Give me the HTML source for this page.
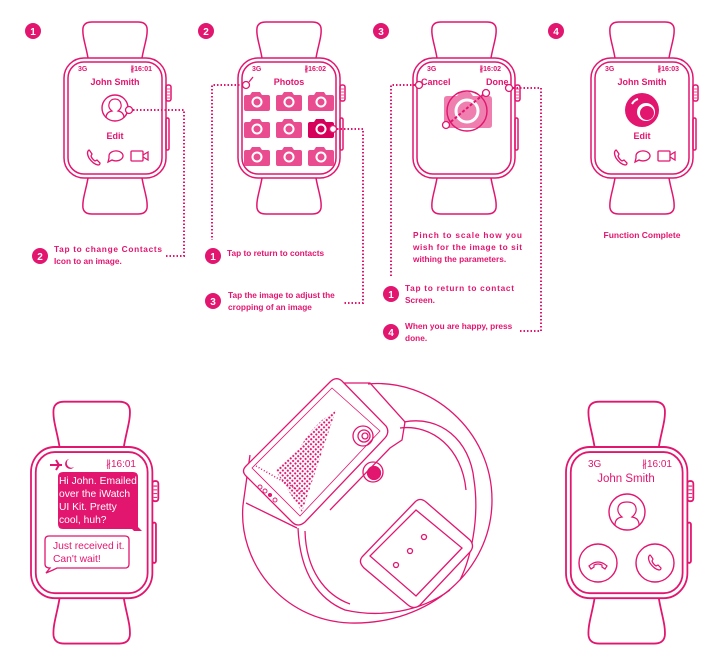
<!DOCTYPE html>
<html><head><meta charset="utf-8"><style>
html,body{margin:0;padding:0;background:#fff}
svg{display:block}
text{font-family:"Liberation Sans Narrow","Liberation Sans",sans-serif;fill:#e2156f}
.b{font-weight:bold}
</style></head><body>
<svg width="726" height="658" viewBox="0 0 726 658" xmlns="http://www.w3.org/2000/svg">
<defs>
<g id="watch" fill="none" stroke="#e2156f" stroke-width="1.5">
<path d="M24,0 C22,-12 18,-22 19,-30 Q20,-36 28,-36 L74,-36 Q82,-36 83,-30 C84,-22 80,-12 78,0"/>
<path d="M24,120 C22,132 18,142 19,150 Q20,156 28,156 L74,156 Q82,156 83,150 C84,142 80,132 78,120"/>
<rect x="0" y="0" width="102" height="120" rx="20" fill="#fff"/>
<rect x="4" y="4" width="94" height="112" rx="16"/>
<rect x="102" y="27" width="5" height="16" rx="2"/>
<path d="M103,31h3M103,34h3M103,37h3M103,40h3" stroke-width="0.8"/>
<rect x="102" y="60" width="3" height="32" rx="1.5"/>
</g>
<g id="cam">
<path d="M-11,-6 h4 l2,-3 h8 l2,3 h6 q2,0 2,2 v12 q0,2 -2,2 h-22 q-2,0 -2,-2 v-12 q0,-2 2,-2z"/>
<circle cx="0" cy="1" r="5.5" fill="#fff"/>
<circle cx="0" cy="1" r="3.5" fill="inherit"/>
</g>
<g id="icons" fill="none" stroke="#e2156f" stroke-width="1.3">
<path d="M-26,-6 q-3,2 0,8 q4,6 9,7 q2,0 2,-2 l-3,-3 l-2,1 q-3,-2 -4,-5 l1,-2 l-2,-3z"/>
<path d="M-6,0 a7,5 0 1 1 3,4 l-4,2 l1,-4z"/>
<rect x="16" y="-5" width="12" height="10" rx="1"/><path d="M28,-1 l5,-3 v8 l-5,-3"/>
</g>
<pattern id="dots" width="3.5" height="3.5" patternUnits="userSpaceOnUse" patternTransform="rotate(-43)">
<circle cx="1.5" cy="1.5" r="1.1" fill="#e2156f"/>
</pattern>
</defs>

<g class="b" font-size="10" text-anchor="middle">
<circle cx="33" cy="31" r="8" fill="#e2156f"/><text x="33" y="35" style="fill:#fff">1</text>
<circle cx="206" cy="31" r="8" fill="#e2156f"/><text x="206" y="35" style="fill:#fff">2</text>
<circle cx="381" cy="31" r="8" fill="#e2156f"/><text x="381" y="35" style="fill:#fff">3</text>
<circle cx="556" cy="31" r="8" fill="#e2156f"/><text x="556" y="35" style="fill:#fff">4</text>
</g>

<use href="#watch" x="64" y="58"/>
<use href="#watch" x="238" y="58"/>
<use href="#watch" x="413" y="58"/>
<use href="#watch" x="591" y="58"/>

<g class="b" font-size="7"><text x="78" y="71">3G</text><text x="152" y="71" text-anchor="end">∦16:01</text></g>
<text x="115" y="85" class="b" font-size="9" text-anchor="middle">John Smith</text>
<circle cx="115" cy="108" r="13" fill="none" stroke="#e2156f" stroke-width="1.4"/>
<path d="M106,118 q0,-6 6,-7 q-4,-3 -3,-7 q1,-5 6,-5 q5,0 6,5 q1,4 -3,7 q6,1 6,7" fill="none" stroke="#e2156f" stroke-width="1.2"/>
<circle cx="129" cy="110" r="3.5" fill="#fff" stroke="#e2156f" stroke-width="1.3"/>
<text x="115" y="139" class="b" font-size="9" text-anchor="middle">Edit</text>
<use href="#icons" x="115" y="156"/>

<g class="b" font-size="7"><text x="605" y="71">3G</text><text x="679" y="71" text-anchor="end">∦16:03</text></g>
<text x="642" y="85" class="b" font-size="9" text-anchor="middle">John Smith</text>
<circle cx="642" cy="110" r="17" fill="#e2156f"/>
<circle cx="646" cy="112" r="9" fill="#fff"/><circle cx="647" cy="113" r="7" fill="#e2156f"/>
<path d="M632,104 a10,10 0 0 1 6,-5" stroke="#fff" stroke-width="2" fill="none"/>
<text x="642" y="139" class="b" font-size="9" text-anchor="middle">Edit</text>
<use href="#icons" x="642" y="156"/>
<text x="642" y="238" class="b" font-size="8.5" text-anchor="middle">Function Complete</text>

<g class="b" font-size="7"><text x="252" y="71">3G</text><text x="326" y="71" text-anchor="end">∦16:02</text></g>
<text x="289" y="85" class="b" font-size="9" text-anchor="middle">Photos</text>
<circle cx="246" cy="85" r="3.5" fill="#fff" stroke="#e2156f" stroke-width="1.3"/>
<path d="M249,82 l4,-5" stroke="#e2156f" stroke-width="1.3"/>
<g fill="#ea4d8f">
<use href="#cam" x="257" y="101"/><use href="#cam" x="289" y="101"/><use href="#cam" x="321" y="101"/>
<use href="#cam" x="257" y="128"/><use href="#cam" x="289" y="128"/>
<use href="#cam" x="257" y="156"/><use href="#cam" x="289" y="156"/><use href="#cam" x="321" y="156"/>
</g>
<g fill="#d6005a"><use href="#cam" x="321" y="128"/></g>
<circle cx="333" cy="129" r="3.5" fill="#fff" stroke="#e2156f" stroke-width="1.3"/>

<g class="b" font-size="7"><text x="427" y="71">3G</text><text x="501" y="71" text-anchor="end">∦16:02</text></g>
<text x="421" y="85" class="b" font-size="9">Cancel</text>
<text x="486" y="85" class="b" font-size="9">Done</text>
<path d="M447,96 h10 l3,-4 h10 l3,4 h16 q3,0 3,3 v26 q0,3 -3,3 h-42 q-3,0 -3,-3 v-26 q0,-3 3,-3z" fill="#ee7fae"/>
<circle cx="467" cy="111" r="20" fill="none" stroke="#e2156f" stroke-width="1.4"/>
<circle cx="467" cy="111" r="11" fill="none" stroke="#fff" stroke-width="3"/>
<path d="M447,125 L485,93" stroke="#e2156f" stroke-width="2" stroke-dasharray="3,2"/>
<circle cx="446" cy="125" r="3.5" fill="#fff" stroke="#e2156f" stroke-width="1.3"/>
<circle cx="486" cy="93" r="3.5" fill="#fff" stroke="#e2156f" stroke-width="1.3"/>
<circle cx="419" cy="85" r="3.5" fill="#fff" stroke="#e2156f" stroke-width="1.3"/>
<circle cx="509" cy="88" r="3.5" fill="#fff" stroke="#e2156f" stroke-width="1.3"/>
<g class="b" font-size="8.3">
<text x="413" y="238" textLength="109" lengthAdjust="spacing">Pinch to scale how you</text>
<text x="413" y="250" textLength="109" lengthAdjust="spacing">wish for the image to sit</text>
<text x="413" y="262">withing the parameters.</text>
</g>

<g fill="none" stroke="#e2156f" stroke-width="2" stroke-dasharray="1.5,2">
<path d="M133,110 H184 V256 H166"/>
<path d="M243,85 H212 V240"/>
<path d="M337,129 H363 V303 H343"/>
<path d="M415,85 H391 V277"/>
<path d="M513,88 H541 V331 H520"/>
</g>

<g class="b" font-size="10" text-anchor="middle">
<circle cx="40" cy="256" r="8" fill="#e2156f"/><text x="40" y="260" style="fill:#fff">2</text>
<circle cx="213" cy="256" r="8" fill="#e2156f"/><text x="213" y="260" style="fill:#fff">1</text>
<circle cx="213" cy="301" r="8" fill="#e2156f"/><text x="213" y="305" style="fill:#fff">3</text>
<circle cx="391" cy="294" r="8" fill="#e2156f"/><text x="391" y="298" style="fill:#fff">1</text>
<circle cx="391" cy="332" r="8" fill="#e2156f"/><text x="391" y="336" style="fill:#fff">4</text>
</g>
<g class="b" font-size="8.3">
<text x="54" y="252" textLength="108" lengthAdjust="spacing">Tap to change Contacts</text>
<text x="54" y="264">Icon to an image.</text>
<text x="227" y="256">Tap to return to contacts</text>
<text x="228" y="298">Tap the image to adjust the</text>
<text x="228" y="310">cropping of an image</text>
<text x="405" y="291" textLength="109" lengthAdjust="spacing">Tap to return to contact</text>
<text x="405" y="303">Screen.</text>
<text x="405" y="329">When you are happy, press</text>
<text x="405" y="341">done.</text>
</g>

<g transform="translate(31,447) scale(1.19,1.26)"><use href="#watch"/></g>
<g fill="#e2156f"><path d="M50,465 h12 M56,460 l3,5 l-3,5" stroke="#e2156f" stroke-width="2" fill="none"/>
<path d="M69,459 a5,5 0 1 0 5,8 a4,4 0 0 1 -5,-8z"/></g>
<text x="136" y="467" font-size="10" text-anchor="end">∦16:01</text>
<path d="M58,472 h75 q5,0 5,5 v50 l4,4 h-8 l-2,-2 h-69 q-5,0 -5,-5 v-47 q0,-5 5,-5z" fill="#e2156f"/>
<g font-size="10.3">
<text x="59" y="484" style="fill:#fff">Hi John. Emailed</text>
<text x="59" y="497" style="fill:#fff">over the iWatch</text>
<text x="59" y="510" style="fill:#fff">UI Kit. Pretty</text>
<text x="59" y="523" style="fill:#fff">cool, huh?</text>
</g>
<path d="M49,536 h76 q4,0 4,4 v24 q0,4 -4,4 h-68 l-4,2 l-7,3 l4,-5 q-5,0 -5,-4 v-24 q0,-4 4,-4z" fill="#fff" stroke="#e2156f" stroke-width="1.3"/>
<text x="53" y="549" font-size="10.3">Just received it.</text>
<text x="53" y="562" font-size="10.3">Can't wait!</text>

<g transform="translate(566,447) scale(1.19,1.26)"><use href="#watch"/></g>
<text x="588" y="467" font-size="10">3G</text>
<text x="672" y="467" font-size="10" text-anchor="end">∦16:01</text>
<text x="626" y="482" font-size="11.5" text-anchor="middle">John Smith</text>
<circle cx="627" cy="512" r="18" fill="none" stroke="#e2156f" stroke-width="1.4"/>
<path d="M615,525 q0,-7 7,-8 q-5,-4 -4,-9 q1,-6 9,-6 q8,0 9,6 q1,5 -4,9 q7,1 7,8" fill="none" stroke="#e2156f" stroke-width="1.2"/>
<circle cx="598" cy="563" r="19" fill="none" stroke="#e2156f" stroke-width="1.4"/>
<circle cx="655" cy="563" r="19" fill="none" stroke="#e2156f" stroke-width="1.4"/>
<path d="M589,566 q9,-8 18,0 l-2,3 l-3,-2 v-2 q-4,-2 -8,0 v2 l-3,2z" fill="none" stroke="#e2156f" stroke-width="1.2"/>
<path d="M650,555 q-3,2 0,8 q4,6 9,7 q2,0 2,-2 l-3,-3 l-2,1 q-3,-2 -4,-5 l1,-2 l-2,-3z" fill="none" stroke="#e2156f" stroke-width="1.2"/>

<!-- middle perspective watch -->
<g fill="none" stroke="#e2156f" stroke-width="1.3">
<path d="M368,384 C430,378 492,430 492,500 C492,570 430,625 350,623 C280,620 238,560 243,505"/>
<path d="M404,422 C440,415 470,440 474,480 C480,520 470,560 460,580 M400,428 C432,424 462,448 466,490"/>
<path d="M298,528 C300,575 320,600 345,610 C380,618 420,612 450,590 M305,531 C306,570 325,595 350,604"/>
<path d="M243,505 L250,455 M246,503 L297,528"/>
<path d="M332,383 L370,383 L405,422 L402,440 L390,448 L330,510"/>
<path d="M246,466 L330,382 Q336,376 342,381 L386,426 Q390,432 385,438 L305,522 Q298,528 292,522 L246,476 Q241,471 246,466z" fill="#fff"/>
<path d="M252,468 L332,388 L380,431 L300,516z" stroke-width="0.8"/>
<circle cx="363" cy="436" r="10"/><circle cx="364" cy="436" r="6"/><circle cx="365" cy="436" r="3"/>
<circle cx="373" cy="472" r="10"/><circle cx="374" cy="473" r="6.5" fill="#e2156f"/>
<path d="M362,557 L415,502 Q420,497 426,502 L470,540 Q475,546 470,552 L420,605 Q414,610 408,605 L364,568 Q358,562 362,557z" fill="#fff"/>
<path d="M370,556 L416,510 L462,548 L416,596z"/>
<circle cx="424" cy="537" r="2.5"/><circle cx="410" cy="551" r="2.5"/><circle cx="396" cy="565" r="2.5"/>
</g>
<path d="M275,470 L298,450 L310,432 L322,420 L336,410 L302,512z" fill="url(#dots)"/>
<path d="M256,466 L263,470 L270,474 L277,478 L284,482 L291,486 L298,490 L305,494" stroke="#e2156f" stroke-width="1.5" stroke-dasharray="1,2"/>
<g fill="none" stroke="#e2156f" stroke-width="0.9">
<circle cx="260" cy="487" r="2"/><circle cx="265" cy="491" r="2"/><circle cx="270" cy="495" r="1.6" fill="#e2156f"/><circle cx="275" cy="500" r="2"/>
</g>
</svg>
</body></html>
